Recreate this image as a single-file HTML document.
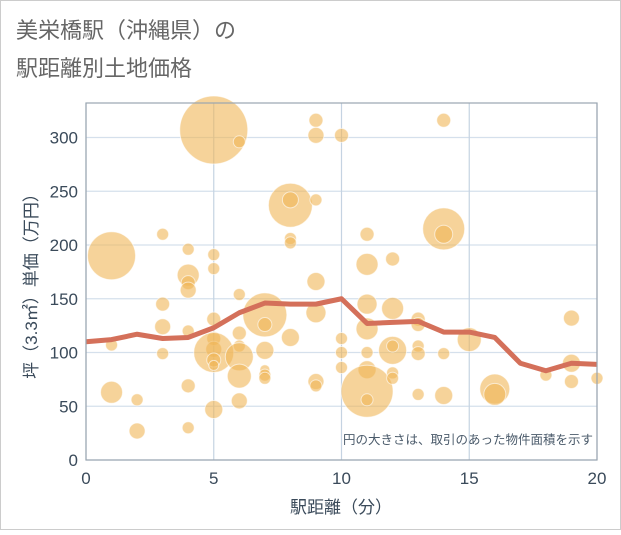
<!DOCTYPE html>
<html><head><meta charset="utf-8"><style>
body{margin:0;background:#fff;font-family:"Liberation Sans","Noto Sans CJK JP",sans-serif;}
svg text{font-family:"Liberation Sans","Noto Sans CJK JP",sans-serif;}
</style></head><body>
<svg id="chart" width="621" height="530" xmlns="http://www.w3.org/2000/svg">
<rect x="0.5" y="0.5" width="620" height="529" fill="#fff" stroke="#ccc"/>
<text x="16" y="38" font-size="22" fill="#666">美栄橋駅（沖縄県）の</text>
<text x="16" y="76" font-size="22" fill="#666">駅距離別土地価格</text>
<g id="grid"></g>
<g id="bubbles"></g>
<g id="line"></g>
<g id="axes"></g>
<text x="593" y="444" font-size="12.5" fill="#4a5a6a" text-anchor="end">円の大きさは、取引のあった物件面積を示す</text>
<text x="341" y="513" font-size="17" fill="#3a4a5a" text-anchor="middle">駅距離（分）</text>
<text transform="translate(37,282) rotate(-90)" font-size="17" fill="#3a4a5a" text-anchor="middle">坪（3.3㎡）単価（万円）</text>
</svg>
<script>
const xTicks=[0,5,10,15,20];
const yTicks=[0,50,100,150,200,250,300];
const bx=[1,1,1,2,2,3,3,3,3,4,4,4,4,4,4,4,5,5,5,5,5,5,5,5,5,5,6,6,6,6,6,6,6,7,7,7,7,7,7,8,8,8,8,8,9,9,9,9,9,9,9,10,10,10,10,11,11,11,11,11,11,11,11,12,12,12,12,12,12,13,13,13,13,13,14,14,14,14,14,15,16,16,18,19,19,19,20];
const by=[190,107,63,56,27,210,145,124,99,196,172,165,158,120,69,30,307,191,178,131,113,103,100,93,88,47,296,154,118,106,96,78,55,135,126,102,84,79,76,237,242,206,202,114,316,302,242,166,137,73,69,302,113,100,86,210,182,145,122,100,84,64,56,187,141,102,106,81,76,131,126,106,99,61,316,215,210,99,60,112,66,61,79,132,90,73,76];
const bsize=[24,6,11,6,8,6,7,8,6,6,11,7,8,6,7,6,34,6,6,7,7,8,20,7,5,9,6,6,7,6,14,12,8,22,7,9,5,6,6,22,8,6,6,9,7,8,6,9,10,8,6,7,6,6,6,7,11,10,11,6,9,26,6,7,11,14,6,6,6,7,7,6,7,6,7,21,9,6,9,12,15,11,6,8,9,7,6];
const lineX=[0,1,2,3,4,5,6,7,8,9,10,11,12,13,14,15,16,17,18,19,20];
const lineY=[110,112,117,113,114,123,137,146,145,145,150,127,128,129,119,119,114,90,83,90,89];
const L=86,R=597,T=103,B=460;
const xs=v=>L+(R-L)*v/20;
const ys=v=>B-(B-137.5)*v/300;
const NS="http://www.w3.org/2000/svg";
function mk(tag,parent,attrs){const e=document.createElementNS(NS,tag);for(const k in attrs)e.setAttribute(k,attrs[k]);document.getElementById(parent).appendChild(e);return e;}
const g=document.getElementById('grid');
for(const v of yTicks){const e=mk('line','grid',{x1:L,x2:R,y1:ys(v),y2:ys(v),stroke:'#d5e0ec','stroke-width':1.3});


const t=mk('text','axes',{x:L-8,y:ys(v)+6,'font-size':17,fill:'#3a4a5a','text-anchor':'end'});t.textContent=v;

}
for(const v of xTicks){const e=mk('line','grid',{x1:xs(v),x2:xs(v),y1:T,y2:B,stroke:'#c5d3e2','stroke-width':1.2});


const t=mk('text','axes',{x:xs(v),y:B+24,'font-size':17,fill:'#3a4a5a','text-anchor':'middle'});t.textContent=v;

}
const fr=mk('rect','axes',{x:L,y:T,width:R-L,height:B-T,fill:'none',stroke:'#9aa5b0','stroke-width':1.2});


for(let i=0;i<bx.length;i++){const c=mk('circle','bubbles',{cx:xs(bx[i]),cy:ys(by[i]),r:bsize[i],fill:'#f0b556','fill-opacity':0.6,stroke:'#fff','stroke-opacity':0.6,'stroke-width':1});

}
const p=mk('polyline','line',{points:lineX.map((x,i)=>xs(x)+','+ys(lineY[i])).join(' '),fill:'none',stroke:'#d4705a','stroke-width':5,'stroke-linejoin':'round'});


</script>
</body></html>
